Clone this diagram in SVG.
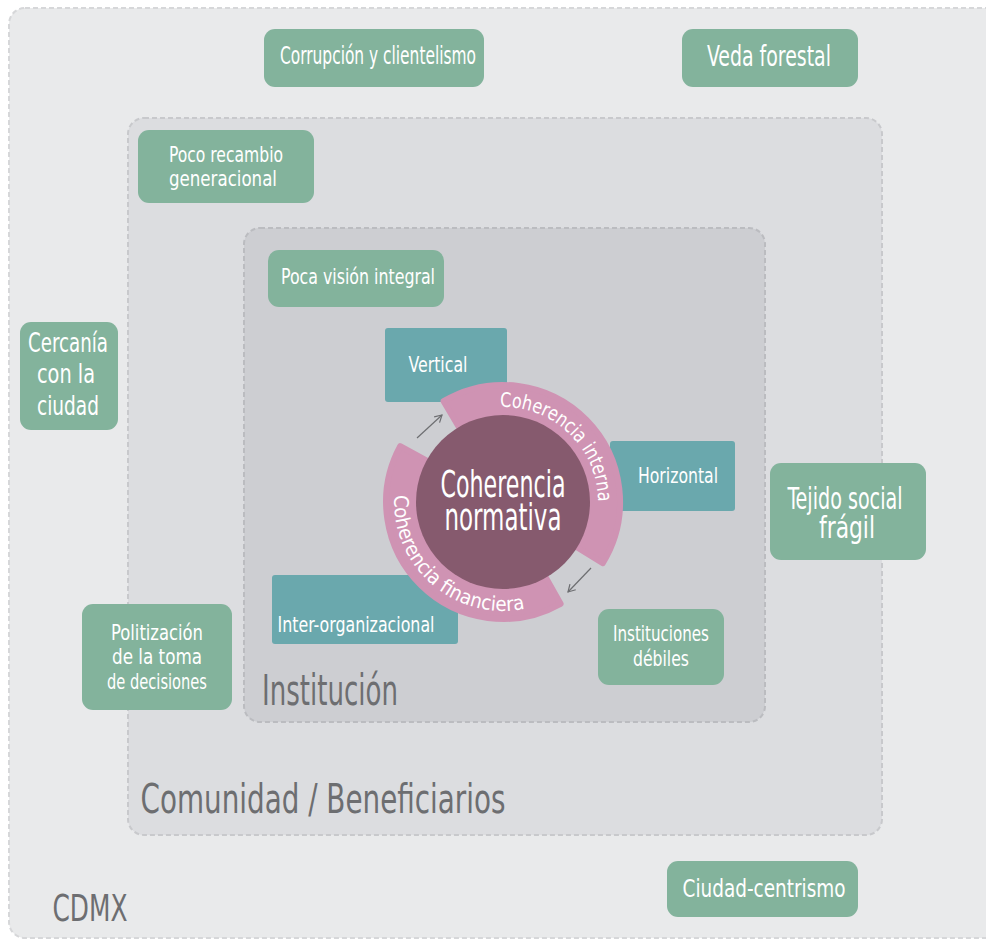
<svg xmlns="http://www.w3.org/2000/svg" width="986" height="940" viewBox="0 0 986 940">
<defs>
<style>
.t{font-family:'DejaVu Sans Condensed','Liberation Sans Narrow','DejaVu Sans',sans-serif;font-stretch:condensed;fill:#ffffff;text-anchor:middle}
.g{fill:#83b39c}
.b{fill:#6aa8ad}
.lbl{font-family:'DejaVu Sans Condensed','Liberation Sans Narrow','DejaVu Sans',sans-serif;font-stretch:condensed;fill:#6d6e71}
.pk{fill:#cf93b3;stroke:#cf93b3;stroke-width:6;stroke-linejoin:round}
.con{fill:none;stroke:#6d6e71;stroke-width:1.2}
</style>
<marker id="ah" markerWidth="10" markerHeight="10" refX="8" refY="5" orient="auto" markerUnits="userSpaceOnUse">
<path d="M1,1 L8,5 L1,9" fill="none" stroke="#6d6e71" stroke-width="1.2"/>
</marker>
<path id="pInt" d="M447.2,425.1 A95 95 0 0 1 581.8,555.1"/>
<path id="pFin" d="M409.6,445.9 A109 109 0 0 0 571.6,586.7"/>
</defs>
<g id="cdmx">
<rect x="9" y="8" width="995" height="930" rx="16" fill="#e9eaeb" stroke="#d6d7d9" stroke-width="2" stroke-dasharray="5 3"/>
<text class="lbl" x="90" y="921" font-size="38" text-anchor="middle" textLength="75" lengthAdjust="spacingAndGlyphs">CDMX</text>
</g>
<g id="comunidad">
<rect x="128" y="118" width="754" height="717" rx="16" fill="#dcdde0" stroke="#c8c9cc" stroke-width="2" stroke-dasharray="5 3"/>
<text class="lbl" x="323" y="813" font-size="40" text-anchor="middle" textLength="365" lengthAdjust="spacingAndGlyphs">Comunidad / Beneficiarios</text>
</g>
<g id="institucion">
<rect x="244" y="228" width="521" height="494" rx="16" fill="#cdced2" stroke="#bbbcc0" stroke-width="2" stroke-dasharray="5 3"/>
<text class="lbl" x="330" y="705" font-size="42" text-anchor="middle" textLength="136" lengthAdjust="spacingAndGlyphs">Institución</text>
</g>
<g id="corrupcion">
<rect class="g" x="264" y="29" width="220" height="58" rx="11"/>
<text class="t" x="378" y="64" font-size="24" textLength="196" lengthAdjust="spacingAndGlyphs">Corrupción y clientelismo</text>
</g>
<g id="veda">
<rect class="g" x="682" y="29" width="176" height="58" rx="11"/>
<text class="t" x="769" y="66" font-size="29" textLength="124" lengthAdjust="spacingAndGlyphs">Veda forestal</text>
</g>
<g id="recambio">
<rect class="g" x="138" y="130" width="176" height="73" rx="11"/>
<text class="t" x="226" y="162" font-size="22" textLength="114" lengthAdjust="spacingAndGlyphs">Poco recambio</text>
<text class="t" x="223" y="186" font-size="22" textLength="108" lengthAdjust="spacingAndGlyphs">generacional</text>
</g>
<g id="vision">
<rect class="g" x="268" y="250" width="176" height="57" rx="11"/>
<text class="t" x="358" y="284" font-size="22" textLength="154" lengthAdjust="spacingAndGlyphs">Poca visión integral</text>
</g>
<g id="cercania">
<rect class="g" x="20" y="322" width="98" height="108" rx="11"/>
<text class="t" x="68" y="352" font-size="27" textLength="80" lengthAdjust="spacingAndGlyphs">Cercanía</text>
<text class="t" x="66" y="383" font-size="27" textLength="58" lengthAdjust="spacingAndGlyphs">con la</text>
<text class="t" x="68" y="415" font-size="27" textLength="62" lengthAdjust="spacingAndGlyphs">ciudad</text>
</g>
<g id="tejido">
<rect class="g" x="770" y="463" width="156" height="97" rx="11"/>
<text class="t" x="845" y="509" font-size="30" textLength="115" lengthAdjust="spacingAndGlyphs">Tejido social</text>
<text class="t" x="847" y="538" font-size="30" textLength="56" lengthAdjust="spacingAndGlyphs">frágil</text>
</g>
<g id="politizacion">
<rect class="g" x="82" y="604" width="150" height="106" rx="11"/>
<text class="t" x="157" y="640" font-size="21" textLength="92" lengthAdjust="spacingAndGlyphs">Politización</text>
<text class="t" x="157" y="664" font-size="21" textLength="90" lengthAdjust="spacingAndGlyphs">de la toma</text>
<text class="t" x="157" y="689" font-size="21" textLength="100" lengthAdjust="spacingAndGlyphs">de decisiones</text>
</g>
<g id="debiles">
<rect class="g" x="598" y="609" width="126" height="76" rx="11"/>
<text class="t" x="661" y="641" font-size="21" textLength="96" lengthAdjust="spacingAndGlyphs">Instituciones</text>
<text class="t" x="661" y="666" font-size="21" textLength="56" lengthAdjust="spacingAndGlyphs">débiles</text>
</g>
<g id="ciudadcentrismo">
<rect class="g" x="667" y="861" width="191" height="56" rx="11"/>
<text class="t" x="764" y="897" font-size="25" textLength="163" lengthAdjust="spacingAndGlyphs">Ciudad-centrismo</text>
</g>
<g id="vertical">
<rect class="b" x="385" y="328" width="122" height="74" rx="3"/>
<text class="t" x="438" y="372" font-size="22" textLength="59" lengthAdjust="spacingAndGlyphs">Vertical</text>
</g>
<g id="horizontal">
<rect class="b" x="610" y="441" width="125" height="70" rx="3"/>
<text class="t" x="678" y="483" font-size="22" textLength="80" lengthAdjust="spacingAndGlyphs">Horizontal</text>
</g>
<g id="interorg">
<rect class="b" x="272" y="575" width="186" height="69" rx="3"/>
<text class="t" x="356" y="632" font-size="22" textLength="157" lengthAdjust="spacingAndGlyphs">Inter-organizacional</text>
</g>
<g id="interna">
<path class="pk" d="M443.6,401.2 A117 117 0 0 1 602.8,563.1 L571.2,543.8 A80 80 0 0 0 462.4,433.1 Z"/>
<text class="t" font-size="20"><textPath href="#pInt" startOffset="50%" textLength="152" lengthAdjust="spacingAndGlyphs">Coherencia interna</textPath></text>
</g>
<g id="financiera">
<path class="pk" d="M560.6,603.8 A117 117 0 0 1 400.2,446.2 L432.7,463.8 A80 80 0 0 0 542.4,571.6 Z"/>
<text class="t" font-size="20"><textPath href="#pFin" startOffset="50%" textLength="200" lengthAdjust="spacingAndGlyphs">Coherencia financiera</textPath></text>
</g>
<g id="normativa">
<circle cx="503" cy="502" r="87" fill="#865a6e"/>
<text class="t" x="503" y="497" font-size="38" textLength="125" lengthAdjust="spacingAndGlyphs">Coherencia</text>
<text class="t" x="503" y="530" font-size="38" textLength="117" lengthAdjust="spacingAndGlyphs">normativa</text>
</g>
<g id="connectors">
<line class="con" x1="417" y1="438" x2="442" y2="415" marker-end="url(#ah)"/>
<line class="con" x1="591" y1="568" x2="568" y2="592" marker-end="url(#ah)"/>
</g>
</svg>
